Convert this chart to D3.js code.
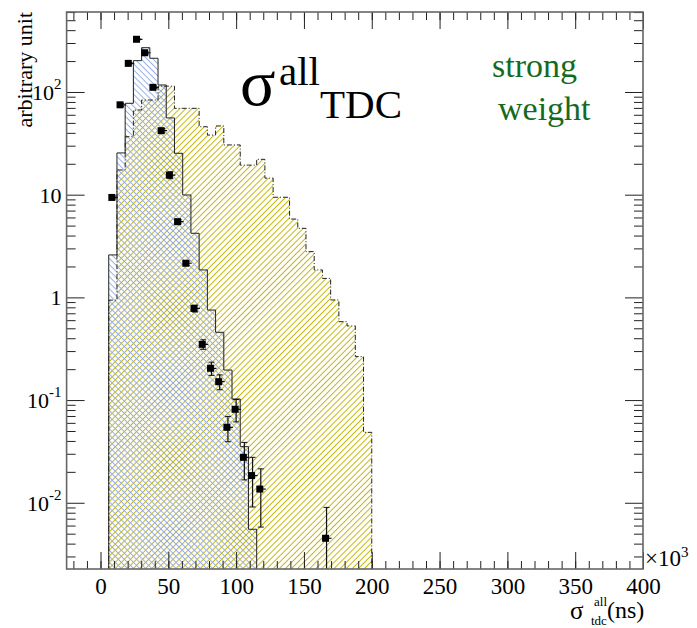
<!DOCTYPE html>
<html>
<head>
<meta charset="utf-8">
<script src="https://cdn.jsdelivr.net/npm/d3@7"></script>
<style>
  body { margin: 0; background: #fff; }
  svg text { font-family: 'Liberation Serif', serif; fill: #000; }
</style>
</head>
<body>
<div id="chart"></div>
<script>
// histograms: 0..200 (x10^3 ns) in 33 bins, first bin empty
var binWidth = 200 / 33;

// solid outline, blue hatch: bins 1..18
var blueValues = [2.59, 25.5, 77.6, 202, 270, 213, 117, 55.9, 25.3, 9.93,
                  4.21, 1.85, 0.753, 0.457, 0.196, 0.1025, 0.0352, 0.00552];

// dash-dot outline, yellow hatch: bins 1..32
var yellowValues = [0.94, 17.4, 36.7, 66.8, 83.5, 83.5, 114, 114, 69.3, 69.3,
                    69.3, 45.9, 38.1, 46.7, 30.5, 30.5, 19.4, 19.4, 22.1, 14.5,
                    9.44, 9.44, 5.79, 4.70, 2.79, 1.85, 1.53, 0.944, 0.58, 0.527,
                    0.265, 0.0485];

// data points (bin index, value, error)
var pointBins = [1, 2, 3, 4, 5, 6, 7, 8, 9, 10, 11, 12, 13, 14, 15, 16, 17, 18, 19, 27];
var pointValues = [9.4, 75, 190, 326, 241, 111, 42, 15.5, 5.46, 2.15,
                   0.78, 0.349, 0.204, 0.151, 0.0543, 0.0813, 0.0277, 0.0184, 0.0136, 0.00451];
var pointErrors = [0.3, 2.5, 4, 5.5, 4.8, 3.2, 2, 1.2, 0.25, 0.1,
                   0.06, 0.037, 0.03, 0.025, 0.015, 0.02, 0.011, 0.0093, 0.0078, 0.0045];

var xTickValues = [0, 50, 100, 150, 200, 250, 300, 350, 400];
var yTickValues = [0.01, 0.1, 1, 10, 100];
var yTickLabels = [["10", "-2"], ["10", "-1"], ["1", ""], ["10", ""], ["10", "2"]];

var serif = "'Liberation Serif', serif";

var margin = { top: 12, right: 54, bottom: 59, left: 66.6 },
    width = 697 - margin.left - margin.right,
    height = 628 - margin.top - margin.bottom;

var svg = d3.select('#chart')
            .append('svg')
            .attr('width', 697)
            .attr('height', 628)
            .attr('font-family', serif);

var defs = svg.append('defs');

function hatch(id, angle, color) {
  var p = defs.append('pattern')
              .attr('id', id)
              .attr('patternUnits', 'userSpaceOnUse')
              .attr('width', 4.3)
              .attr('height', 10)
              .attr('patternTransform', 'rotate(' + angle + ')');
  p.append('line')
   .attr('x1', 2.15).attr('y1', 0)
   .attr('x2', 2.15).attr('y2', 10)
   .attr('stroke', color)
   .attr('stroke-width', 1);
}
hatch('hatchYellow', 45, '#c2b411');
hatch('hatchBlue', -45, '#98ade0');

defs.append('clipPath').attr('id', 'plotClip')
    .append('rect').attr('width', width).attr('height', height);

var g = svg.append('g')
           .attr('transform', 'translate(' + margin.left + ',' + margin.top + ')');

var x = d3.scaleLinear().domain([-25, 400]).range([0, width]);
var y = d3.scaleLog().domain([0.002265, 601]).range([height, 0]);

// step outline of a histogram whose first filled bin is bin 1
function stepPoints(values) {
  var pts = [[x(binWidth), height + 2]];
  values.forEach(function(v, i) {
    pts.push([x((i + 1) * binWidth), y(v)]);
  });
  pts.push([x((values.length + 1) * binWidth), y(values[values.length - 1])]);
  pts.push([x((values.length + 1) * binWidth), height + 2]);
  return pts;
}
var step = d3.line().curve(d3.curveStepAfter);

var plot = g.append('g').attr('clip-path', 'url(#plotClip)');

// fills
plot.append('path')
    .attr('d', step(stepPoints(yellowValues)) + 'Z')
    .attr('fill', 'url(#hatchYellow)');
plot.append('path')
    .attr('d', step(stepPoints(blueValues)) + 'Z')
    .attr('fill', 'url(#hatchBlue)');

// outlines
plot.append('path')
    .attr('d', step(stepPoints(yellowValues)))
    .attr('fill', 'none')
    .attr('stroke', '#222')
    .attr('stroke-width', 1)
    .attr('stroke-dasharray', '5,2,1,2');
plot.append('path')
    .attr('d', step(stepPoints(blueValues)))
    .attr('fill', 'none')
    .attr('stroke', '#222')
    .attr('stroke-width', 1);

// data points with error bars
var points = pointBins.map(function(b, i) {
  return { c: (b + 0.5) * binWidth, v: pointValues[i], e: pointErrors[i] };
});

var pg = plot.selectAll('.pt')
             .data(points)
             .enter().append('g')
             .attr('class', 'pt');

pg.append('line')
  .attr('x1', function(d) { return x(d.c); })
  .attr('x2', function(d) { return x(d.c); })
  .attr('y1', function(d) { return y(d.v + d.e); })
  .attr('y2', function(d) { return d.v - d.e > 0.002 ? y(d.v - d.e) : height + 2; })
  .attr('stroke', '#111').attr('stroke-width', 1.2);
pg.append('line')
  .attr('x1', function(d) { return x(d.c) - 3; })
  .attr('x2', function(d) { return x(d.c) + 3; })
  .attr('y1', function(d) { return y(d.v + d.e); })
  .attr('y2', function(d) { return y(d.v + d.e); })
  .attr('stroke', '#111').attr('stroke-width', 1);
pg.filter(function(d) { return d.v - d.e > 0.002; })
  .append('line')
  .attr('x1', function(d) { return x(d.c) - 3; })
  .attr('x2', function(d) { return x(d.c) + 3; })
  .attr('y1', function(d) { return y(d.v - d.e); })
  .attr('y2', function(d) { return y(d.v - d.e); })
  .attr('stroke', '#111').attr('stroke-width', 1);
pg.append('line')
  .attr('x1', function(d) { return x(d.c); })
  .attr('x2', function(d) { return x(d.c) + 5; })
  .attr('y1', function(d) { return y(d.v); })
  .attr('y2', function(d) { return y(d.v); })
  .attr('stroke', '#111').attr('stroke-width', 1.2);
pg.append('rect')
  .attr('x', function(d) { return x(d.c) - 4.5; })
  .attr('y', function(d) { return y(d.v) - 3.5; })
  .attr('width', 7)
  .attr('height', 7)
  .attr('fill', '#000');

// axes
var xMinor = d3.range(-20, 401, 10);
var yMinor = [];
[-3, -2, -1, 0, 1, 2].forEach(function(p) {
  for (var k = 2; k <= 9; k++) {
    var v = k * Math.pow(10, p);
    if (v > y.domain()[0] && v < y.domain()[1]) yMinor.push(v);
  }
});

function styleAxis(sel) {
  sel.attr('font-family', serif);
  sel.select('.domain').remove();
  sel.selectAll('.tick line').attr('stroke', '#222');
}

g.append('g').attr('transform', 'translate(0,' + height + ')')
 .call(d3.axisBottom(x).tickValues(xMinor).tickSize(-8).tickFormat(''))
 .call(styleAxis);
var xAxis = g.append('g').attr('transform', 'translate(0,' + height + ')')
 .call(d3.axisBottom(x).tickValues(xTickValues).tickSize(-17).tickPadding(9))
 .call(styleAxis);
xAxis.attr('font-size', 23);

g.append('g')
 .call(d3.axisTop(x).tickValues(xMinor).tickSize(-8).tickFormat(''))
 .call(styleAxis);
g.append('g')
 .call(d3.axisTop(x).tickValues(xTickValues).tickSize(-17).tickFormat(''))
 .call(styleAxis);

g.append('g')
 .call(d3.axisLeft(y).tickValues(yMinor).tickSize(-9).tickFormat(''))
 .call(styleAxis);
var yAxis = g.append('g')
 .call(d3.axisLeft(y).tickValues(yTickValues).tickSize(-18).tickPadding(5).tickFormat(''))
 .call(styleAxis);
yAxis.attr('font-size', 22);
yAxis.selectAll('.tick text').each(function(d, i) {
  var t = d3.select(this).attr('dy', '0.34em');
  t.append('tspan').text(yTickLabels[i][0]);
  if (yTickLabels[i][1]) {
    t.append('tspan').attr('font-size', 15).attr('dy', '-0.75em').text(yTickLabels[i][1]);
  }
});

g.append('g').attr('transform', 'translate(' + width + ',0)')
 .call(d3.axisRight(y).tickValues(yMinor).tickSize(-9).tickFormat(''))
 .call(styleAxis);
g.append('g').attr('transform', 'translate(' + width + ',0)')
 .call(d3.axisRight(y).tickValues(yTickValues).tickSize(-18).tickFormat(''))
 .call(styleAxis);

// frame
g.append('rect')
 .attr('width', width).attr('height', height)
 .attr('fill', 'none')
 .attr('stroke', '#666')
 .attr('stroke-width', 1.6);

// exponent of the x axis
var xe = g.append('text').attr('x', width + 2).attr('y', height - 3).attr('font-size', 23);
xe.append('tspan').text('\u00d710');
xe.append('tspan').attr('font-size', 15).attr('dy', '-0.6em').text('3');

// axis titles
svg.append('text')
   .attr('transform', 'translate(32,12) rotate(-90)')
   .attr('text-anchor', 'end')
   .attr('font-size', 22)
   .text('arbitrary unit');

svg.append('text').attr('x', 570).attr('y', 619).attr('font-size', 25).text('\u03c3');
svg.append('text').attr('x', 594).attr('y', 606).attr('font-size', 13).text('all');
svg.append('text').attr('x', 591).attr('y', 625).attr('font-size', 13).text('tdc');
svg.append('text').attr('x', 607).attr('y', 618).attr('font-size', 24).text('(ns)');

// big label
svg.append('text').attr('x', 240).attr('y', 105).attr('font-size', 66).text('\u03c3');
svg.append('text').attr('x', 279).attr('y', 85).attr('font-size', 41).text('all');
svg.append('text').attr('x', 320).attr('y', 118).attr('font-size', 41).text('TDC');

// weighting note
svg.append('text').attr('x', 492).attr('y', 77).attr('font-size', 34)
   .style('fill', '#156a22').text('strong');
svg.append('text').attr('x', 498).attr('y', 120).attr('font-size', 34)
   .style('fill', '#156a22').text('weight');
</script>
</body>
</html>
